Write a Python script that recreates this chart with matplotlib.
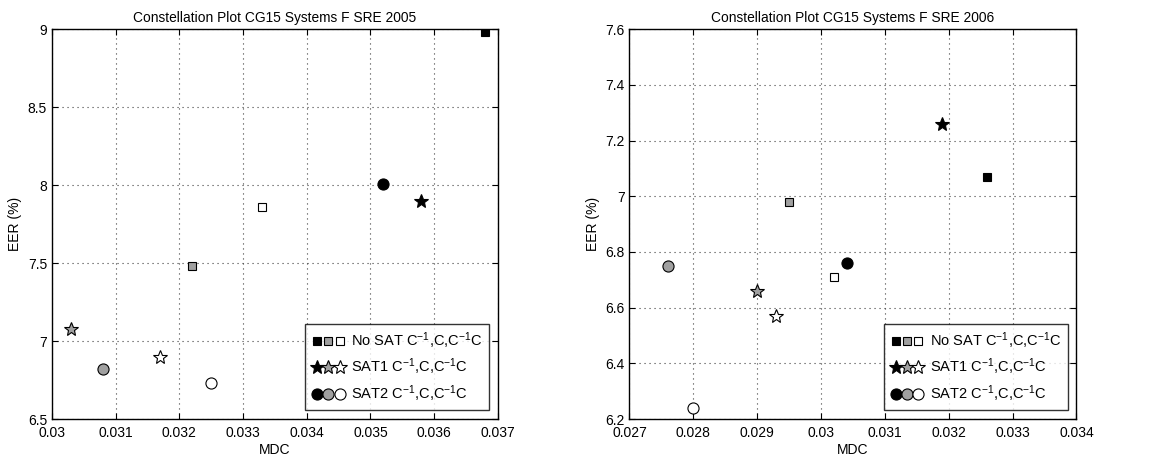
import matplotlib

matplotlib.use("Agg")
import matplotlib.pyplot as plt
from matplotlib.legend_handler import HandlerTuple

plt.rcParams["font.family"] = ["Liberation Sans", "DejaVu Sans"]
plt.rcParams["mathtext.fontset"] = "custom"
plt.rcParams["mathtext.rm"] = "Liberation Sans"
plt.rcParams["mathtext.it"] = "Liberation Sans"

# Data: each series has three points (C^-1, C, C^-1 C) -> black, gray, white
SHADES = ["black", "#a0a0a0", "white"]

titles = ["Constellation Plot CG15 Systems F SRE 2005",
          "Constellation Plot CG15 Systems F SRE 2006"]

nosat_mdc_05 = [0.0368, 0.0322, 0.0333]
nosat_eer_05 = [8.98, 7.48, 7.86]
sat1_mdc_05 = [0.0358, 0.0303, 0.0317]
sat1_eer_05 = [7.90, 7.08, 6.90]
sat2_mdc_05 = [0.0352, 0.0308, 0.0325]
sat2_eer_05 = [8.01, 6.82, 6.73]

nosat_mdc_06 = [0.0326, 0.0295, 0.0302]
nosat_eer_06 = [7.07, 6.98, 6.71]
sat1_mdc_06 = [0.0319, 0.0290, 0.0293]
sat1_eer_06 = [7.26, 6.66, 6.57]
sat2_mdc_06 = [0.0304, 0.0276, 0.0280]
sat2_eer_06 = [6.76, 6.75, 6.24]

labels = [r"No SAT C$^{-1}$,C,C$^{-1}$C",
          r"SAT1 C$^{-1}$,C,C$^{-1}$C",
          r"SAT2 C$^{-1}$,C,C$^{-1}$C"]

xlims = [(0.030, 0.037), (0.027, 0.034)]
ylims = [(6.5, 9.0), (6.2, 7.6)]
xticks = [[0.030, 0.031, 0.032, 0.033, 0.034, 0.035, 0.036, 0.037],
          [0.027, 0.028, 0.029, 0.030, 0.031, 0.032, 0.033, 0.034]]
xticklabels = [["0.03", "0.031", "0.032", "0.033", "0.034", "0.035", "0.036", "0.037"],
               ["0.027", "0.028", "0.029", "0.03", "0.031", "0.032", "0.033", "0.034"]]
yticks = [[6.5, 7, 7.5, 8, 8.5, 9], [6.2, 6.4, 6.6, 6.8, 7.0, 7.2, 7.4, 7.6]]
yticklabels = [["6.5", "7", "7.5", "8", "8.5", "9"],
               ["6.2", "6.4", "6.6", "6.8", "7", "7.2", "7.4", "7.6"]]

panels = [
    [(nosat_mdc_05, nosat_eer_05), (sat1_mdc_05, sat1_eer_05), (sat2_mdc_05, sat2_eer_05)],
    [(nosat_mdc_06, nosat_eer_06), (sat1_mdc_06, sat1_eer_06), (sat2_mdc_06, sat2_eer_06)],
]
markers = [("s", 6), ("*", 10.5), ("o", 8)]

fig = plt.figure(figsize=(11.55, 4.62), dpi=100)
positions = [[0.045, 0.093, 0.386, 0.844], [0.545, 0.093, 0.387, 0.844]]

for k in range(2):
    ax = fig.add_axes(positions[k])
    groups = []
    for (mdc, eer), (mk, ms) in zip(panels[k], markers):
        handles = []
        for x, y, c in zip(mdc, eer, SHADES):
            h, = ax.plot([x], [y], linestyle="none", marker=mk, markersize=ms,
                         markerfacecolor=c, markeredgecolor="black",
                         markeredgewidth=0.8, zorder=3)
            handles.append(h)
        groups.append(tuple(handles))
    ax.set_xlim(*xlims[k])
    ax.set_ylim(*ylims[k])
    ax.set_xticks(xticks[k])
    ax.set_xticklabels(xticklabels[k])
    ax.set_yticks(yticks[k])
    ax.set_yticklabels(yticklabels[k])
    ax.tick_params(direction="in", top=True, right=True, labelsize=10, length=4)
    ax.tick_params(axis="x", pad=5)
    ax.grid(True, linestyle=(0, (1, 3.5)), color="0.25", linewidth=0.8)
    for sp in ax.spines.values():
        sp.set_linewidth(1.0)
    ax.set_title(titles[k], fontsize=9.9, pad=5)
    ax.set_xlabel("MDC", fontsize=10, labelpad=2)
    ax.set_ylabel("EER (%)", fontsize=10, labelpad=4)
    leg = ax.legend(groups, labels, loc="lower right",
                    handler_map={tuple: HandlerTuple(ndivide=None, pad=0.05)},
                    handlelength=2.3, fontsize=10.5, frameon=True, fancybox=False,
                    edgecolor="black", borderaxespad=0.6, handletextpad=0.4,
                    labelspacing=0.4, borderpad=0.45)
    leg.get_frame().set_linewidth(1.0)

fig.savefig("out.png", dpi=100, facecolor="white")
